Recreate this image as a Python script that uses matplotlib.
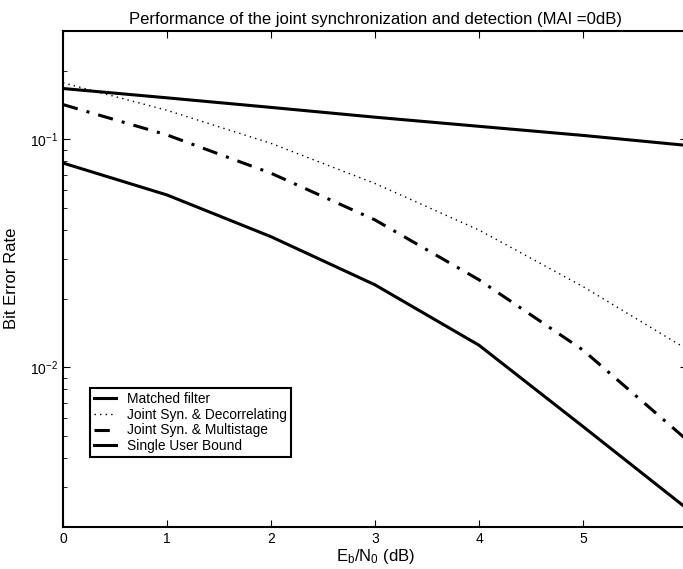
import matplotlib
matplotlib.use("Agg")
import matplotlib.pyplot as plt

plt.rcParams['font.family'] = ['Liberation Sans', 'DejaVu Sans']
plt.rcParams['mathtext.fontset'] = 'custom'
plt.rcParams['mathtext.rm'] = 'Liberation Sans'
plt.rcParams['mathtext.it'] = 'Liberation Sans:italic'
plt.rcParams['mathtext.bf'] = 'Liberation Sans:bold'

# Eb/N0 в dB
snr = [0, 1, 2, 3, 4, 5, 6]
matched = [0.167, 0.152, 0.138, 0.125, 0.114, 0.104, 0.094]
decorr = [0.177, 0.134, 0.096, 0.064, 0.040, 0.0226, 0.012]
multi = [0.142, 0.1045, 0.071, 0.0443, 0.0242, 0.0119, 0.0048]
single = [0.0787, 0.057, 0.0374, 0.023, 0.0125, 0.0055, 0.0024]

labels = ['Matched filter', 'Joint Syn. & Decorrelating',
          'Joint Syn. & Multistage', 'Single User Bound']

fig = plt.figure(figsize=(6.83, 5.69), dpi=100)
ax = fig.add_axes([63/683, 42.3/569, 624/683, 496.2/569])

ax.semilogy(snr, matched, 'k-', lw=2.2, label=labels[0])
ax.semilogy(snr, decorr, color='k', lw=1.0, ls=(0, (1, 3)), label=labels[1])
ax.semilogy(snr, multi, color='k', lw=2.2, ls=(0, (5, 3, 1, 3)), label=labels[2])
ax.semilogy(snr, single, 'k-', lw=2.2, label=labels[3])

ax.set_xlim(0, 6)
ax.set_ylim(0.002, 0.3)
ax.set_xticks(snr)
ax.tick_params(which='both', direction='in', top=True, right=True, labelsize=10)
ax.tick_params(which='major', length=5)
ax.tick_params(which='minor', length=3)
for s in ax.spines.values():
    s.set_linewidth(1.5)

ax.set_title('Performance of the joint synchronization and detection (MAI =0dB)', fontsize=12, pad=5)
ax.set_xlabel(r'E$_\mathrm{b}$/N$_0$ (dB)', fontsize=12, labelpad=1)
ax.set_ylabel('Bit Error Rate', fontsize=12, labelpad=8)

leg = ax.legend(loc='lower left', bbox_to_anchor=(0.043, 0.14), borderaxespad=0,
                fontsize=9.9, fancybox=False, framealpha=1, edgecolor='k',
                handlelength=1.6, handletextpad=0.8, labelspacing=0.12, borderpad=0.3)
leg.get_frame().set_linewidth(1.5)

fig.savefig('out.png', dpi=100)
